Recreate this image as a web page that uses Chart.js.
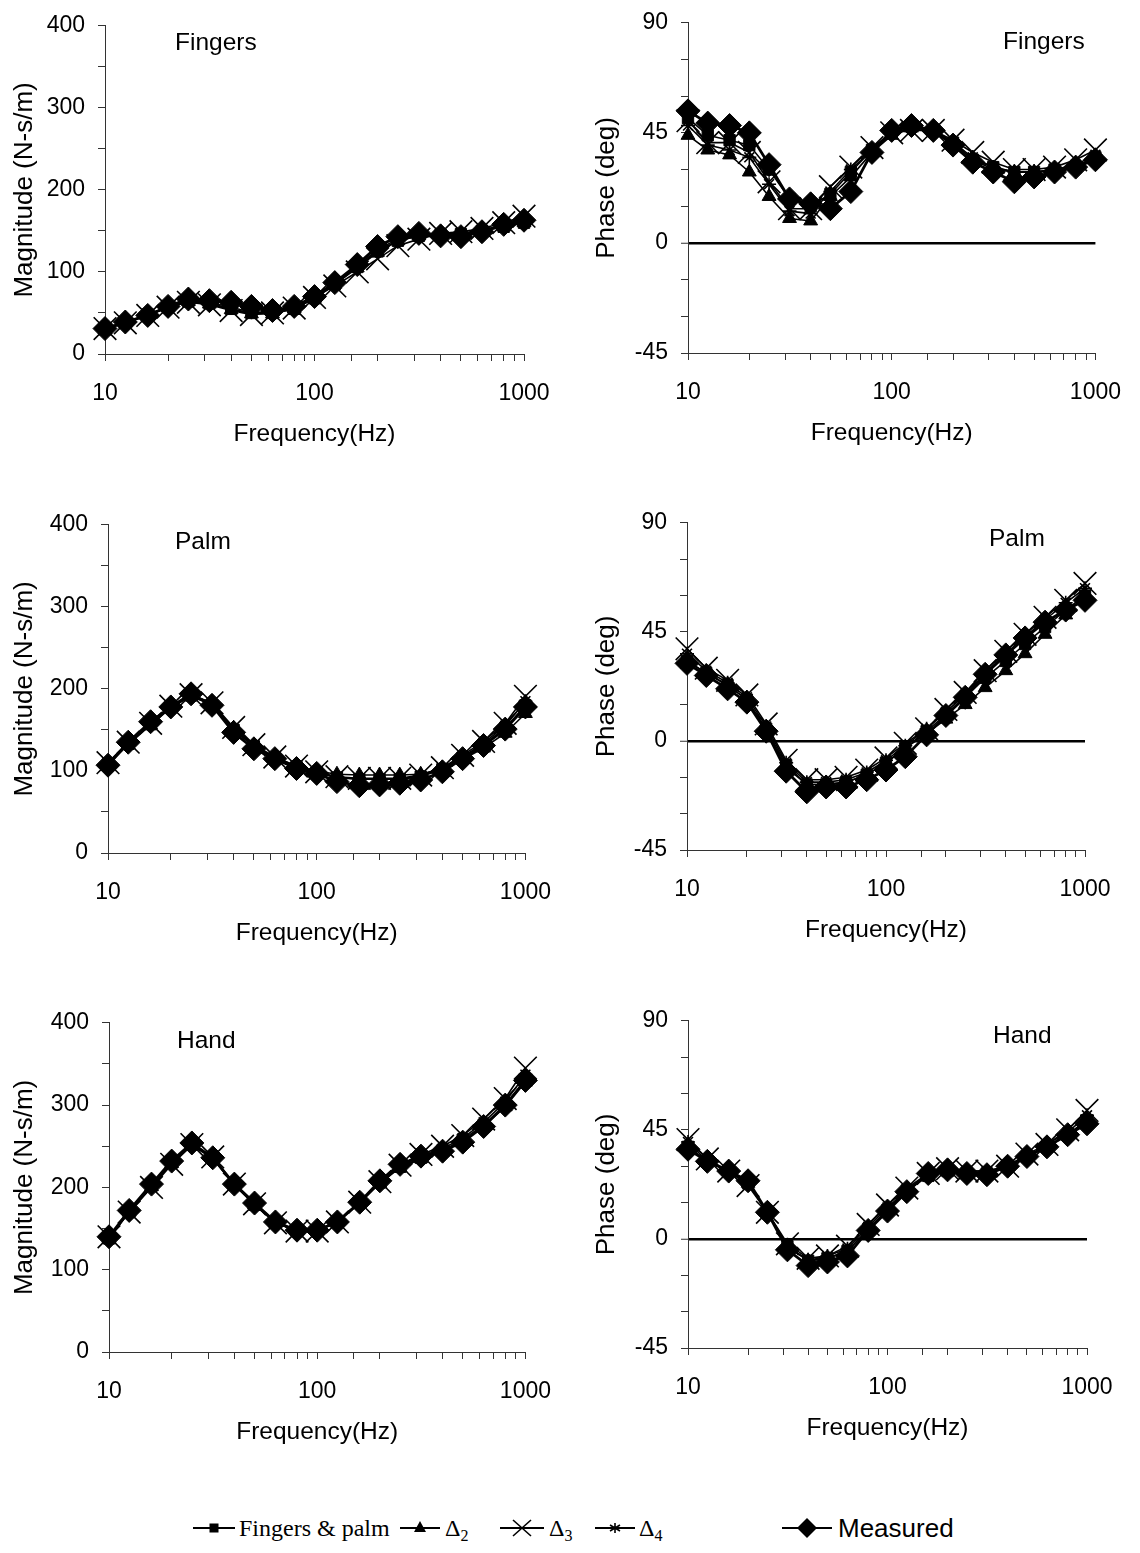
<!DOCTYPE html>
<html>
<head>
<meta charset="utf-8">
<script src="https://cdn.jsdelivr.net/npm/chart.js@4.4.0/dist/chart.umd.min.js"></script>
<style>
  html, body { margin: 0; padding: 0; background: #fff; }
  body { width: 1140px; height: 1553px; position: relative; overflow: hidden; font-family: "Liberation Sans", Arial, sans-serif; }
  .panel { position: absolute; }
  .tag { position: absolute; font-size: 24.5px; line-height: 24px; color: #000; }
  .lg { position: absolute; top: 1511px; height: 34px; line-height: 34px; font-size: 24px; color: #000; white-space: nowrap; }
  .serif { font-family: "Liberation Serif", "Times New Roman", serif; }
  .lg sub { font-size: 16px; vertical-align: -5px; line-height: 0; }
</style>
</head>
<body>
<div id="root"></div>
<script>
// frequencies (Hz), one-third octave bands
const freqs = [10, 12.5, 16, 20, 25, 31.5, 40, 50, 63, 80, 100, 125, 160, 200, 250, 315, 400, 500, 630, 800, 1000];
const seriesNames = ['Fingers & palm', 'Δ2', 'Δ3', 'Δ4', 'Measured'];
const magTicks = [0, 100, 200, 300, 400];
const phaseTicks = [-45, 0, 45, 90];
const freqTicks = [10, 100, 1000];

// rows follow seriesNames order
const fingersMag = [
  [30, 38, 48, 57, 64, 62, 55, 50, 50, 55, 68, 85, 106, 125, 138, 144, 145, 146, 150, 155, 160],
  [30, 38, 47, 57, 64, 61, 54, 49, 49, 55, 68, 85, 105, 124, 138, 144, 146, 146, 150, 155, 160],
  [31, 38, 47, 57, 63, 60, 53, 48, 50, 56, 69, 83, 100, 116, 132, 140, 147, 149, 153, 160, 168],
  [31, 38, 48, 57, 65, 63, 57, 51, 51, 56, 69, 86, 107, 127, 140, 145, 146, 147, 151, 157, 162],
  [31, 39, 47, 58, 67, 65, 63, 58, 53, 58, 70, 87, 109, 131, 143, 147, 144, 143, 149, 158, 163]
];
const fingersPhase = [
  [51, 44, 42, 40, 30, 18, 15, 20, 29, 38, 45, 48, 46, 41, 34, 31, 29, 29, 30, 31, 35],
  [44, 38, 36, 29, 19, 10, 9, 19, 27, 37, 44, 47, 46, 41, 34, 30, 29, 29, 29.5, 31.5, 35],
  [50, 41, 41, 37, 25, 14, 14, 23, 31, 39, 45, 46, 46, 42, 37, 33, 30, 30, 31, 34, 38],
  [48, 40, 38, 35, 24, 13, 12, 21, 30, 38, 45, 47, 46, 41, 35, 31, 29, 29, 30, 32, 36],
  [54, 49, 48, 45, 32, 18, 16, 14, 21, 37, 46, 48, 46, 40, 33, 29, 25, 27, 29, 31, 34]
];
const palmMag = [
  [108, 133, 157, 178, 192, 180, 150, 130, 115, 105, 98, 92, 90, 90, 90, 93, 102, 116, 132, 152, 180],
  [108, 132, 156, 177, 191, 181, 152, 131, 116, 106, 100, 96, 95, 95, 95, 96, 103, 114, 128, 146, 170],
  [110, 135, 158, 179, 193, 183, 153, 132, 117, 106, 99, 93, 91, 91, 91, 95, 104, 119, 136, 158, 191],
  [109, 134, 158, 178, 193, 182, 151, 130, 116, 105, 98, 92, 90, 90, 90, 94, 103, 117, 134, 155, 185],
  [107, 135, 160, 178, 194, 180, 147, 127, 115, 103, 97, 87, 82, 83, 85, 89, 99, 115, 131, 151, 178]
];
const palmPhase = [
  [33, 28, 23, 17, 5, -10, -18, -18, -17, -14, -9, -3, 4, 11, 18, 26, 33, 40, 47, 54, 60],
  [33, 28, 23, 17, 4, -11, -18, -18, -17, -14, -9, -3, 3, 9, 15, 22, 29, 36, 44, 52, 60],
  [38, 30, 25, 19, 7, -8, -16, -16, -15, -12, -7, -1, 5, 13, 20, 29, 37, 44, 51, 58, 65],
  [36, 29, 24, 18, 6, -9, -17, -17, -16, -13, -8, -2, 5, 12, 19, 28, 36, 43, 50, 57, 63],
  [32, 27, 21.5, 16, 4, -12.5, -21, -19, -19, -16, -12, -6.5, 2.5, 10.5, 18, 27.5, 35.5, 42.5, 49, 54, 58]
];
const handMag = [
  [138, 170, 202, 230, 252, 236, 203, 179, 157, 147, 147, 158, 182, 206, 225, 236, 245, 258, 276, 300, 330],
  [138, 170, 201, 229, 251, 235, 203, 179, 157, 147, 148, 159, 181, 205, 224, 235, 244, 256, 274, 298, 328],
  [140, 170, 200, 228, 252, 237, 204, 180, 157, 147, 147, 158, 182, 207, 227, 240, 250, 263, 283, 308, 345],
  [139, 171, 202, 230, 253, 236, 204, 180, 158, 148, 148, 159, 182, 207, 226, 238, 247, 260, 279, 304, 337],
  [140, 172, 204, 232, 254, 236, 204, 181, 158, 148, 148, 158, 182, 208, 228, 238, 244, 255, 274, 300, 330]
];
const handPhase = [
  [38, 32, 28, 23, 11, -3, -9, -8, -5, 4, 12, 20, 26, 28, 27, 27, 30, 34, 38, 43, 49],
  [38, 32, 28, 23, 11, -3, -9, -8, -5, 4, 12, 20, 26, 28, 27, 27, 30, 34, 38, 43, 49],
  [41, 33, 28, 22, 11, -2, -8, -7, -3, 6, 14, 21, 27, 29, 28, 28, 30, 35, 39, 45, 53],
  [40, 32, 28, 23, 11, -3, -9, -7, -4, 5, 13, 20, 27, 29, 28, 28, 30, 34, 39, 44, 51],
  [37, 32, 28, 24, 11, -4.5, -11, -9.5, -7, 3.5, 11.5, 19.5, 27, 28.5, 27, 26.5, 30, 34, 38, 43, 47.5]
];

// marker look per series
const looks = [
  { style: 'rect',     radius: 8,  line: 1.6, bw: 1 },
  { style: 'triangle', radius: 8,  line: 1.6, bw: 1 },
  { style: 'crossRot', radius: 16, line: 1.6, bw: 1.6 },
  { style: 'star',     radius: 7,  line: 1.6, bw: 1.6 },
  { style: 'rectRot',  radius: 12, line: 2.8, bw: 1 }
];

// plot-area rectangles in page pixels
const panels = [
  { data: fingersMag,   kind: 'mag',   tag: 'Fingers', x0: 0,   L: 105, R: 524,  T: 21,   B: 354,  tagX: 175,  tagY: 30 },
  { data: fingersPhase, kind: 'phase', tag: 'Fingers', x0: 570, L: 688, R: 1101, T: 18,   B: 353,  tagX: 1003, tagY: 29 },
  { data: palmMag,      kind: 'mag',   tag: 'Palm',    x0: 0,   L: 108, R: 527,  T: 520,  B: 853,  tagX: 175,  tagY: 529 },
  { data: palmPhase,    kind: 'phase', tag: 'Palm',    x0: 570, L: 687, R: 1085, T: 518,  B: 850,  tagX: 989,  tagY: 526 },
  { data: handMag,      kind: 'mag',   tag: 'Hand',    x0: 0,   L: 109, R: 528,  T: 1018, B: 1352, tagX: 177,  tagY: 1028 },
  { data: handPhase,    kind: 'phase', tag: 'Hand',    x0: 570, L: 688, R: 1087, T: 1016, B: 1348, tagX: 993,  tagY: 1023 }
];

const root = document.getElementById('root');
const TOP_PAD = 22, X_AXIS_H = 110, PANEL_W = 570;

panels.forEach(p => {
  const h = TOP_PAD + (p.B - p.T) + X_AXIS_H;
  const wrap = document.createElement('div');
  wrap.className = 'panel';
  wrap.style.left = p.x0 + 'px';
  wrap.style.top = (p.T - TOP_PAD) + 'px';
  const cv = document.createElement('canvas');
  cv.width = PANEL_W; cv.height = h;
  cv.style.width = PANEL_W + 'px'; cv.style.height = h + 'px';
  wrap.appendChild(cv);
  root.appendChild(wrap);

  const tag = document.createElement('div');
  tag.className = 'tag';
  tag.style.left = p.tagX + 'px';
  tag.style.top = p.tagY + 'px';
  tag.textContent = p.tag;
  root.appendChild(tag);

  const isMag = p.kind === 'mag';
  const labelTicks = isMag ? magTicks : phaseTicks;
  const yTitleCenter = p.x0 === 0 ? 25 : 37;

  const datasets = seriesNames.map((name, i) => ({
    label: name,
    data: freqs.map((f, j) => ({ x: f, y: p.data[i][j] })),
    borderColor: '#000',
    borderWidth: looks[i].line,
    backgroundColor: '#000',
    pointStyle: looks[i].style,
    pointRadius: looks[i].radius,
    pointBorderWidth: looks[i].bw,
    pointBackgroundColor: '#000',
    pointBorderColor: '#000',
    fill: false,
    tension: 0,
    clip: false,
    order: i === 4 ? 0 : 5 - i
  }));

  new Chart(cv, {
    type: 'line',
    data: { datasets },
    options: {
      responsive: false,
      animation: false,
      devicePixelRatio: 1,
      layout: { padding: { top: TOP_PAD, right: p.x0 + PANEL_W - p.R, left: 0, bottom: 0 } },
      plugins: { legend: { display: false }, tooltip: { enabled: false } },
      scales: {
        x: {
          type: 'logarithmic',
          min: 10, max: 1000,
          afterFit: s => { s.height = X_AXIS_H; },
          border: { display: true, color: '#333', width: 1 },
          grid: { drawOnChartArea: false, drawTicks: true, tickLength: 7, tickColor: '#333' },
          ticks: {
            autoSkip: false, maxRotation: 0, minRotation: 0, padding: 19,
            color: '#000',
            font: { family: 'Liberation Sans', size: 23, lineHeight: 1.2 },
            callback: v => freqTicks.includes(v) ? String(v) : ''
          },
          title: {
            display: true, text: 'Frequency(Hz)', color: '#000',
            font: { family: 'Liberation Sans', size: 24.5, lineHeight: 1.2 },
            padding: { top: 0, bottom: 15 }
          }
        },
        y: {
          min: isMag ? 0 : -45,
          max: isMag ? 400 : 90,
          afterFit: s => { s.width = p.L - p.x0; },
          border: { display: true, color: '#333', width: 1 },
          grid: {
            drawOnChartArea: !isMag,
            drawTicks: true, tickLength: 7, tickColor: '#333', tickWidth: 1,
            color: c => (!isMag && c.tick && c.tick.value === 0) ? '#000' : 'rgba(0,0,0,0)',
            lineWidth: c => (!isMag && c.tick && c.tick.value === 0) ? 2.5 : 1
          },
          ticks: {
            stepSize: isMag ? 50 : 15, padding: 13,
            color: '#000',
            font: { family: 'Liberation Sans', size: 23, lineHeight: 1.2 },
            callback: v => labelTicks.includes(v) ? String(v) : ''
          },
          title: {
            display: true, text: isMag ? 'Magnitude (N-s/m)' : 'Phase (deg)', color: '#000',
            font: { family: 'Liberation Sans', size: 26, lineHeight: 1.2 },
            padding: { top: yTitleCenter - 15.6, bottom: 0 }
          }
        }
      }
    }
  });
});

// legend row
const legendPos = [
  { m: 193, w: 42, t: 239 },
  { m: 400, w: 40, t: 445 },
  { m: 500, w: 44, t: 549 },
  { m: 595, w: 40, t: 639 },
  { m: 782, w: 50, t: 838 }
];

function drawMark(ctx, style, cx, cy) {
  ctx.fillStyle = '#000'; ctx.strokeStyle = '#000';
  ctx.beginPath();
  if (style === 'rect') {
    ctx.fillRect(cx - 4.5, cy - 4.5, 9, 9);
  } else if (style === 'triangle') {
    ctx.moveTo(cx, cy - 7); ctx.lineTo(cx + 6, cy + 4); ctx.lineTo(cx - 6, cy + 4); ctx.closePath(); ctx.fill();
  } else if (style === 'crossRot') {
    ctx.lineWidth = 1.6;
    ctx.moveTo(cx - 9, cy - 8); ctx.lineTo(cx + 9, cy + 8);
    ctx.moveTo(cx - 9, cy + 8); ctx.lineTo(cx + 9, cy - 8); ctx.stroke();
  } else if (style === 'star') {
    ctx.lineWidth = 1.6;
    ctx.moveTo(cx, cy - 5); ctx.lineTo(cx, cy + 5);
    ctx.moveTo(cx - 5, cy - 3); ctx.lineTo(cx + 5, cy + 3);
    ctx.moveTo(cx - 5, cy + 3); ctx.lineTo(cx + 5, cy - 3); ctx.stroke();
  } else {
    ctx.moveTo(cx, cy - 10); ctx.lineTo(cx + 10, cy); ctx.lineTo(cx, cy + 10); ctx.lineTo(cx - 10, cy); ctx.closePath(); ctx.fill();
  }
}

seriesNames.forEach((name, i) => {
  const pos = legendPos[i];
  const mk = document.createElement('canvas');
  mk.width = pos.w; mk.height = 34;
  mk.className = 'lg';
  mk.style.left = pos.m + 'px';
  root.appendChild(mk);
  const ctx = mk.getContext('2d');
  ctx.strokeStyle = '#000'; ctx.lineWidth = 2;
  ctx.beginPath(); ctx.moveTo(0, 17); ctx.lineTo(pos.w, 17); ctx.stroke();
  drawMark(ctx, looks[i].style, pos.w / 2, 17);

  const tx = document.createElement('div');
  tx.className = 'lg' + (i < 4 ? ' serif' : '');
  tx.style.left = pos.t + 'px';
  if (i === 4) tx.style.fontSize = '26px';
  if (i === 0 || i === 4) tx.textContent = name;
  else tx.innerHTML = 'Δ<sub>' + name.slice(1) + '</sub>';
  root.appendChild(tx);
});
</script>
</body>
</html>
